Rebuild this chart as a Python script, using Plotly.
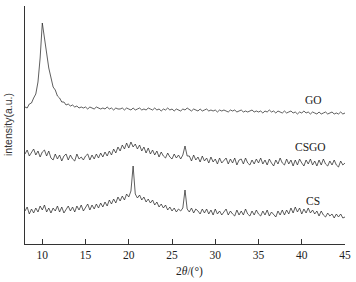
import plotly.graph_objects as go

two_theta = [
    8.0, 8.25, 8.5, 8.75, 9.0, 9.25, 9.5, 9.75, 10.0, 10.25, 10.5, 10.75,
    11.0, 11.25, 11.5, 11.75, 12.0, 12.25, 12.5, 12.75, 13.0, 13.25, 13.5, 13.75,
    14.0, 14.25, 14.5, 14.75, 15.0, 15.25, 15.5, 15.75, 16.0, 16.25, 16.5, 16.75,
    17.0, 17.25, 17.5, 17.75, 18.0, 18.25, 18.5, 18.75, 19.0, 19.25, 19.5, 19.75,
    20.0, 20.25, 20.5, 20.75, 21.0, 21.25, 21.5, 21.75, 22.0, 22.25, 22.5, 22.75,
    23.0, 23.25, 23.5, 23.75, 24.0, 24.25, 24.5, 24.75, 25.0, 25.25, 25.5, 25.75,
    26.0, 26.25, 26.5, 26.75, 27.0, 27.25, 27.5, 27.75, 28.0, 28.25, 28.5, 28.75,
    29.0, 29.25, 29.5, 29.75, 30.0, 30.25, 30.5, 30.75, 31.0, 31.25, 31.5, 31.75,
    32.0, 32.25, 32.5, 32.75, 33.0, 33.25, 33.5, 33.75, 34.0, 34.25, 34.5, 34.75,
    35.0, 35.25, 35.5, 35.75, 36.0, 36.25, 36.5, 36.75, 37.0, 37.25, 37.5, 37.75,
    38.0, 38.25, 38.5, 38.75, 39.0, 39.25, 39.5, 39.75, 40.0, 40.25, 40.5, 40.75,
    41.0, 41.25, 41.5, 41.75, 42.0, 42.25, 42.5, 42.75, 43.0, 43.25, 43.5, 43.75,
    44.0, 44.25, 44.5, 44.75, 45.0,
]

go_intensity = [
    137, 136, 140, 141, 146, 150, 162, 186, 221, 208, 191, 176,
    165, 157, 154, 148, 146, 142, 142, 139, 140, 138, 139, 137,
    138, 136, 137, 136, 137, 135, 137, 136, 135, 137, 136, 135,
    136, 135, 137, 135, 136, 134, 136, 135, 135, 136, 134, 136,
    135, 134, 136, 134, 135, 136, 134, 135, 134, 136, 135, 134,
    136, 134, 135, 133, 135, 134, 136, 134, 135, 133, 135, 134,
    133, 135, 134, 136, 134, 133, 135, 134, 133, 135, 133, 134,
    135, 133, 134, 133, 134, 132, 134, 133, 134, 133, 132, 134,
    133, 134, 132, 133, 134, 132, 133, 132, 133, 134, 132, 133,
    132, 133, 131, 133, 132, 134, 132, 133, 131, 133, 132, 131,
    133, 131, 132, 133, 131, 132, 130, 132, 131, 133, 131, 132,
    130, 132, 131, 130, 132, 130, 131, 132, 130, 131, 132, 130,
    131, 130, 132, 130, 131,
]

csgo_intensity = [
    90, 94, 88, 91, 95, 89, 93, 87, 92, 94, 88, 93,
    86, 84, 90, 85, 89, 83, 88, 90, 84, 89, 85, 83,
    90, 85, 87, 84, 88, 90, 84, 89, 85, 90, 86, 91,
    87, 92, 88, 93, 89, 95, 91, 97, 93, 99, 95, 101,
    96, 102, 97, 100, 95, 99, 93, 97, 91, 96, 90, 94,
    89, 93, 87, 92, 88, 86, 91, 87, 85, 90, 86, 89,
    85, 89, 98, 88, 88, 83, 89, 84, 87, 82, 88, 83,
    86, 81, 87, 82, 85, 80, 86, 81, 84, 86, 80, 85,
    81, 86, 79, 84, 85, 80, 86, 81, 79, 84, 80, 85,
    81, 86, 80, 84, 79, 85, 81, 78, 84, 80, 86, 81,
    79, 85, 80, 84, 78, 84, 79, 85, 81, 78, 84, 80,
    85, 79, 83, 78, 84, 79, 85, 80, 78, 83, 79, 84,
    79, 77, 83, 79, 81,
]

cs_intensity = [
    33, 37, 30, 35, 31, 36, 32, 38, 34, 39, 32, 36,
    31, 36, 33, 38, 32, 37, 31, 35, 38, 33, 37, 32,
    38, 34, 39, 33, 36, 40, 34, 39, 35, 40, 36, 41,
    37, 42, 38, 44, 40, 45, 41, 47, 43, 48, 44, 50,
    47, 53, 78, 50, 46, 49, 44, 47, 42, 45, 41, 44,
    39, 42, 37, 40, 36, 39, 34, 37, 33, 36, 32, 35,
    33, 36, 54, 35, 32, 36, 31, 35, 33, 30, 35, 31,
    35, 30, 34, 29, 35, 30, 33, 29, 32, 35, 29, 33,
    30, 28, 34, 29, 33, 29, 35, 30, 28, 33, 29, 34,
    30, 28, 33, 29, 34, 28, 32, 29, 27, 33, 29, 34,
    29, 34, 30, 36, 31, 37, 32, 36, 30, 35, 31, 36,
    31, 34, 30, 33, 28, 33, 29, 27, 31, 28, 30, 26,
    30, 27, 30, 26, 27,
]

series_names = ["GO", "CSGO", "CS"]
label_x = [41.3, 41.0, 41.3]
label_y = [144, 97, 43]

x_ticks = [10, 15, 20, 25, 30, 35, 40, 45]
x_range = [8, 45]
y_range = [0, 238]

fig = go.Figure()
for ys in [go_intensity, csgo_intensity, cs_intensity]:
    fig.add_trace(go.Scatter(
        x=two_theta, y=ys, mode="lines",
        line=dict(color="#2a2a2a", width=0.75),
        showlegend=False, hoverinfo="skip",
    ))

serif = "Liberation Serif, Times New Roman, serif"
for name, lx, ly in zip(series_names, label_x, label_y):
    fig.add_annotation(x=lx, y=ly, text=name, showarrow=False,
                       font=dict(family=serif, size=11.5, color="#222"),
                       xanchor="center", yanchor="middle")

fig.add_annotation(x=0.515, y=-0.115, xref="paper", yref="paper",
                   text="2<i>θ</i>/(°)", showarrow=False,
                   font=dict(family=serif, size=11.5, color="#222"),
                   xanchor="center", yanchor="middle")
fig.add_annotation(x=-0.053, y=0.5, xref="paper", yref="paper",
                   text="intensity(a.u.)", showarrow=False, textangle=-90,
                   font=dict(family="Liberation Sans, Arial, sans-serif", size=10.5, color="#333"),
                   xanchor="center", yanchor="middle")

fig.update_layout(
    width=356, height=282,
    margin=dict(l=25, r=11, t=6, b=38),
    paper_bgcolor="white", plot_bgcolor="white",
    xaxis=dict(range=x_range, tickvals=x_ticks, ticks="inside", ticklen=5,
               tickcolor="#333", showline=True, linecolor="#333", linewidth=1,
               showgrid=False, zeroline=False,
               tickfont=dict(family=serif, size=11.5, color="#222")),
    yaxis=dict(range=y_range, tickvals=[238], ticktext=[""], ticks="inside",
               ticklen=5, tickcolor="#333", showline=True, linecolor="#333",
               linewidth=1, showgrid=False, zeroline=False, showticklabels=False),
)

fig.write_html("out.html",
               config={"displayModeBar": False, "staticPlot": True},
               post_script="document.body.style.margin='0';document.body.style.overflow='hidden';")
